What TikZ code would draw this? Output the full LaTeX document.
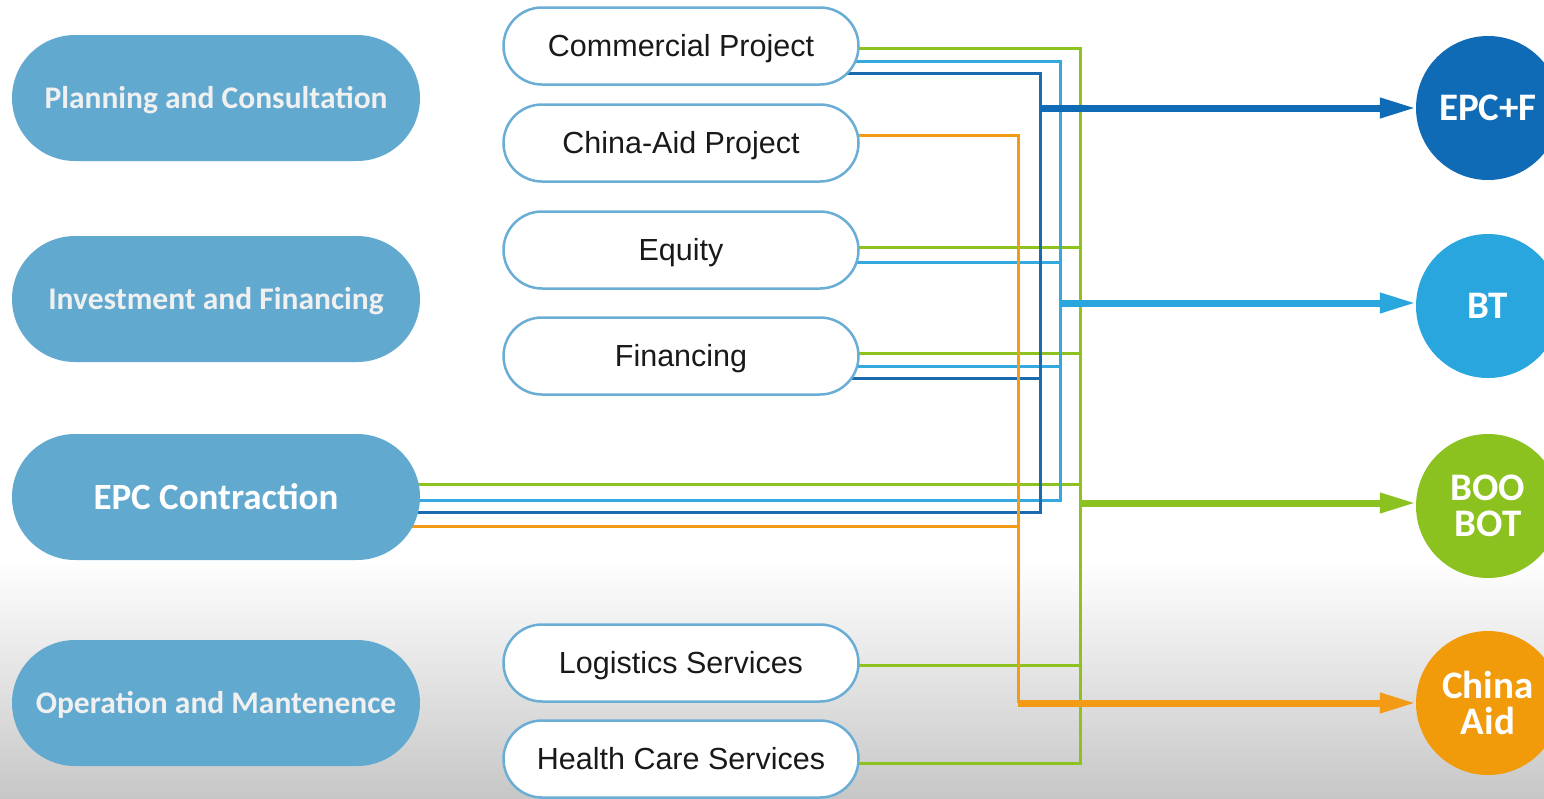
\documentclass[tikz,border=0pt]{standalone}
\usepackage{fontspec}
\setmainfont{Liberation Sans}
\newfontfamily\calfont{Carlito}
\usetikzlibrary{shapes.misc,arrows.meta,calc}
\definecolor{pillblue}{HTML}{62A9D0}
\definecolor{pillborder}{HTML}{6AAED6}
\definecolor{cgreen}{HTML}{8DC21F}
\definecolor{clblue}{HTML}{35A9DF}
\definecolor{cdblue}{HTML}{1A6AB0}
\definecolor{corange}{HTML}{F39A16}
\definecolor{circdblue}{HTML}{0F6BB5}
\definecolor{circlblue}{HTML}{2AA6DF}
\definecolor{circgreen}{HTML}{8CC21F}
\definecolor{circorange}{HTML}{F19A0A}
\pgfdeclarelayer{bg}
\pgfdeclarelayer{lines}
\pgfsetlayers{bg,lines,main}
\begin{document}
\begin{tikzpicture}[x=1pt,y=-1pt,
 leftpill/.style={rounded rectangle, fill=pillblue, minimum width=408pt, minimum height=126pt, text=white!94!black, font=\calfont\bfseries\fontsize{31.5}{36}\selectfont, inner sep=0pt, text height=20pt, text depth=0pt},
 midpill/.style={rounded rectangle, draw=pillborder, line width=2.5pt, fill=white, minimum width=355pt, minimum height=77pt, font=\fontsize{30.5}{34}\selectfont, text=black!90, inner sep=0pt, text height=21.5pt, text depth=0pt},
 target/.style={circle, minimum size=144pt, inner sep=0pt, text=white, align=center, font=\calfont\bfseries\fontsize{39}{36}\selectfont},
 conn/.style={line width=3pt},
 bigarrow/.style={line width=7pt, -{Triangle[length=36pt,width=19pt]}},
]
\useasboundingbox (0,0) rectangle (1544,798);
\clip (0,0) rectangle (1544,798);
\begin{pgfonlayer}{bg}
\fill[white] (0,0) rectangle (1544,798);
\shade[top color=white, bottom color=black!22] (0,560) rectangle (1544,798);
\end{pgfonlayer}

% left pills
\node[leftpill] (plan) at (216,98) {Planning and Consultation};
\node[leftpill] (inv) at (216,299) {Investment and Financing};
\node[leftpill, font=\calfont\bfseries\fontsize{37}{40}\selectfont, text=white, text height=24pt] (epc) at (216,497) {EPC Contraction};
\node[leftpill] (om) at (216,703) {Operation and Mantenence};

% middle pills
\node[midpill] (cp) at (681,46) {Commercial Project};
\node[midpill] (ca) at (681,143) {China-Aid Project};
\node[midpill] (eq) at (681,250) {Equity};
\node[midpill] (fin) at (681,356) {Financing};
\node[midpill] (log) at (681,663) {Logistics Services};
\node[midpill] (hc) at (681,759) {Health Care Services};

% target circles
\node[target, fill=circdblue] (epcf) at (1488,108) {EPC+F};
\node[target, fill=circlblue] (bt) at (1488,306) {BT};
\node[target, fill=circgreen] (boo) at (1488,506) {BOO\\BOT};
\node[target, fill=circorange] (aid) at (1488,703) {China\\Aid};

% bus positions
\coordinate (ox) at (1018,0);
\coordinate (dbx) at (1040,0);
\coordinate (lbx) at (1060,0);
\coordinate (gx) at (1080,0);

% connector start points
\path ($(cp.center)+(0,2)$) coordinate (cpG)
      ($(cp.center)+(0,15)$) coordinate (cpL)
      ($(cp.center)+(0,27)$) coordinate (cpD)
      ($(ca.center)+(0,-8)$) coordinate (caO)
      ($(eq.center)+(0,-3)$) coordinate (eqG)
      ($(eq.center)+(0,12)$) coordinate (eqL)
      ($(fin.center)+(0,-3)$) coordinate (finG)
      ($(fin.center)+(0,10)$) coordinate (finL)
      ($(fin.center)+(0,22)$) coordinate (finD)
      ($(epc.center)+(0,-12.5)$) coordinate (epcG)
      ($(epc.center)+(0,3.5)$) coordinate (epcL)
      ($(epc.center)+(0,15.5)$) coordinate (epcD)
      ($(epc.center)+(0,29.5)$) coordinate (epcO)
      ($(log.center)+(0,2)$) coordinate (logG)
      ($(hc.center)+(0,4)$) coordinate (hcG);

\begin{pgfonlayer}{lines}
% green
\draw[conn, cgreen] (cpG) -| (hcG -| gx) -- (hcG);
\draw[conn, cgreen] (eqG) -- (eqG -| gx);
\draw[conn, cgreen] (finG) -- (finG -| gx);
\draw[conn, cgreen] (epcG) -- (epcG -| gx);
\draw[conn, cgreen] (logG) -- (logG -| gx);
% light blue
\draw[conn, clblue] (cpL) -| (epcL -| lbx) -- (epcL);
\draw[conn, clblue] (eqL) -- (eqL -| lbx);
\draw[conn, clblue] (finL) -- (finL -| lbx);
% dark blue
\draw[conn, cdblue] (cpD) -| (epcD -| dbx) -- (epcD);
\draw[conn, cdblue] (finD) -- (finD -| dbx);
% orange
\draw[conn, corange] (caO) -| (aid.west -| ox);
\draw[conn, corange] (epcO) -- (epcO -| ox);
\end{pgfonlayer}

% thick arrows
\draw[bigarrow, circdblue] (epcf.west -| dbx) -- (epcf.west);
\draw[bigarrow, circlblue] ([yshift=3pt]bt.west -| lbx) -- ([yshift=3pt]bt.west);
\draw[bigarrow, circgreen] ([yshift=3pt]boo.west -| gx) -- ([yshift=3pt]boo.west);
\draw[bigarrow, corange] (aid.west -| ox) -- (aid.west);
\end{tikzpicture}
\end{document}
